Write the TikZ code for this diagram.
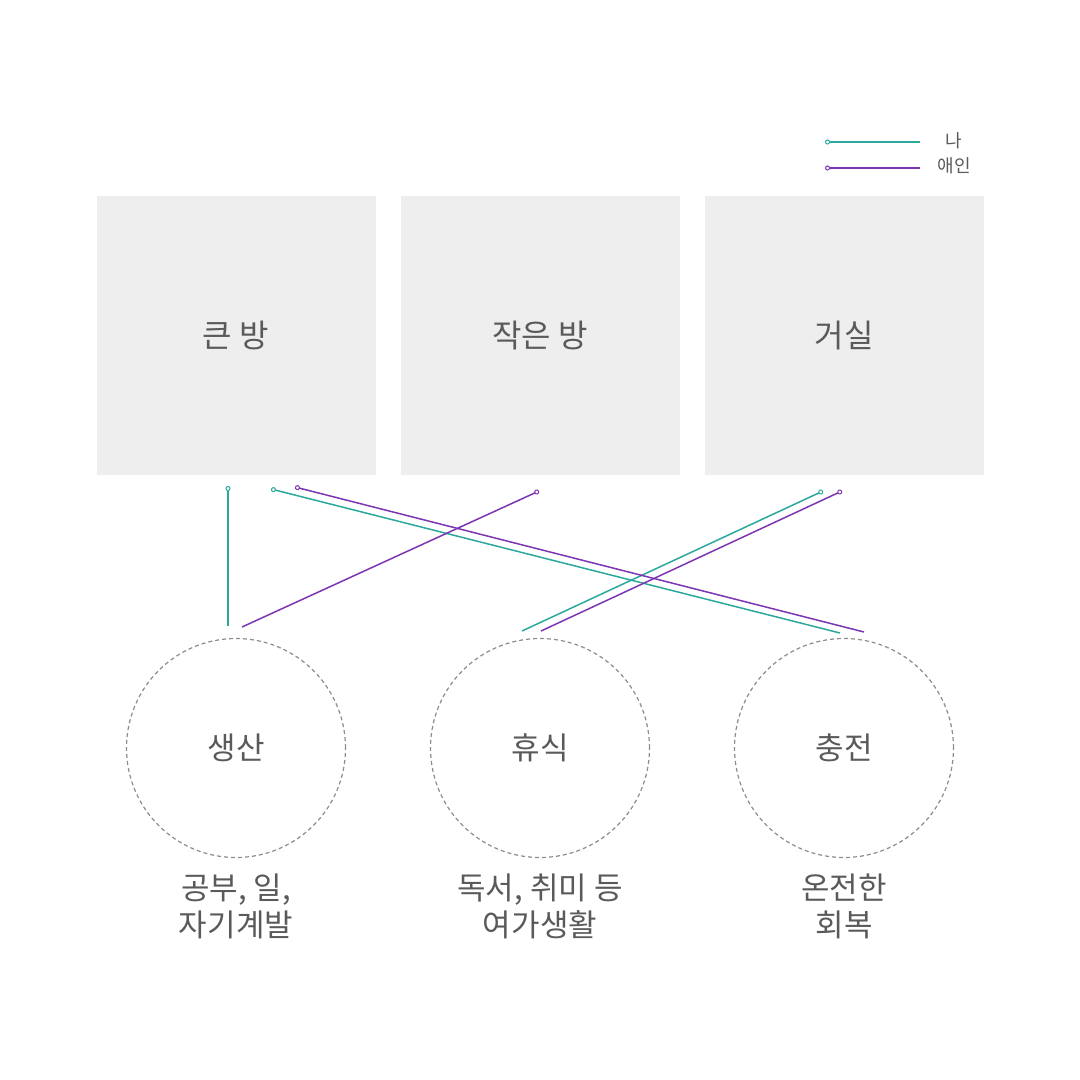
\documentclass[tikz,border=0pt]{standalone}
\usepackage{fontspec}
\setmainfont{Noto Sans CJK KR}
\usetikzlibrary{arrows.meta}
\definecolor{na}{HTML}{2BA89C}
\definecolor{aein}{HTML}{7D35B3}
\definecolor{txt}{HTML}{5A5A5A}
\definecolor{roomfill}{HTML}{EEEEEE}
\begin{document}
\begin{tikzpicture}[x=1pt,y=-1pt,
  room/.style={fill=roomfill,minimum size=279pt,inner sep=0pt,text=txt,font=\fontsize{32}{36}\selectfont},
  use/.style={circle,draw=black!45,dash pattern=on 4pt off 3pt,line width=1.2pt,minimum size=219pt,inner sep=0pt,text=txt,font=\fontsize{31}{36}\selectfont},
  desc/.style={align=center,text=txt,font=\fontsize{31}{37}\selectfont},
  link/.style={line width=1.5pt,{Circle[open,length=5pt,width=5pt,line width=1pt]}-}]
\useasboundingbox (0,0) rectangle (1080,1080);
% rooms, uses and what they are for
\foreach \x/\n/\r/\u/\d in {236/a/큰 방/생산/{공부, 일,\\자기계발},
                            540/b/작은 방/휴식/{독서, 취미 등\\여가생활},
                            844/c/거실/충전/{온전한\\회복}} {
  \node[room] (room\n) at (\x,335.5) {\r};
  \node[use] (use\n) at (\x,748) {\u};
  \node[desc] (desc\n) at (\x,906.5) {\d};
}
% legend
\coordinate (legna) at (825,142);
\coordinate (legnaend) at (920,142);
\coordinate (legaein) at (825,168);
\coordinate (legaeinend) at (920,168);
\draw[link,na] (legna) -- (legnaend);
\draw[link,aein] (legaein) -- (legaeinend);
\node[text=txt,font=\fontsize{18}{20}\selectfont] (legnatext) at (954,141) {나};
\node[text=txt,font=\fontsize{18}{20}\selectfont] (legaeintext) at (954,166) {애인};
% ends of the links
\coordinate (naa) at (228,486);   \coordinate (naua) at (228,626);
\coordinate (naa2) at (271,489);  \coordinate (nauc) at (840,633);
\coordinate (nac) at (823,491);   \coordinate (naub) at (522,631);
\coordinate (aeina) at (295,487); \coordinate (aeinuc) at (864,632);
\coordinate (aeinb) at (539,491); \coordinate (aeinua) at (242,627);
\coordinate (aeinc) at (842,491); \coordinate (aeinub) at (541,631);
\draw[link,na] (naa) -- (naua);
\draw[link,na] (naa2) -- (nauc);
\draw[link,na] (nac) -- (naub);
\draw[link,aein] (aeina) -- (aeinuc);
\draw[link,aein] (aeinb) -- (aeinua);
\draw[link,aein] (aeinc) -- (aeinub);
\end{tikzpicture}
\end{document}
